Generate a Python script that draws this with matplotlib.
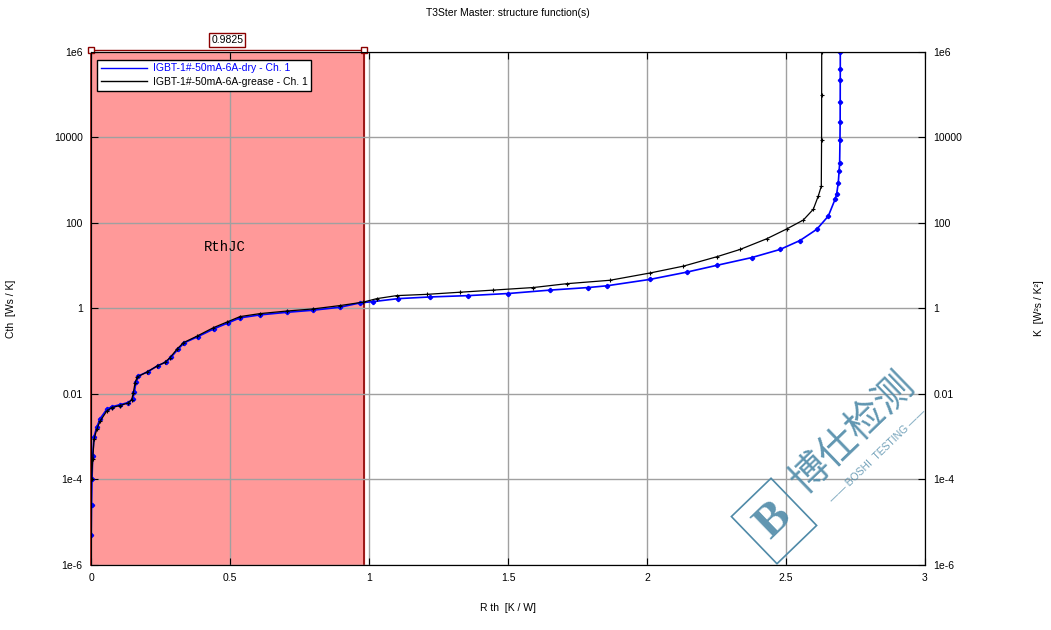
import matplotlib
matplotlib.use("Agg")
import matplotlib.pyplot as plt
import matplotlib.ticker as tic
import matplotlib.transforms as mtrans
from matplotlib.lines import Line2D

plt.rcParams['font.family'] = ['Liberation Sans', 'DejaVu Sans']

# --- данные --- #
rth_dry = [0.0007, 0.0018, 0.0036, 0.0061, 0.0108, 0.0205, 0.0324, 0.0565, 0.0745, 0.1043,
           0.1342, 0.1500, 0.1560, 0.1620, 0.1700, 0.2040, 0.2400, 0.2700, 0.2880, 0.3120,
           0.3360, 0.3840, 0.4440, 0.4920, 0.5360, 0.6079, 0.7040, 0.7996, 0.8957, 0.9676,
           1.0155, 1.1054, 1.2194, 1.3572, 1.5011, 1.6511, 1.7888, 1.8550, 2.0108, 2.1428,
           2.2507, 2.3766, 2.4784, 2.5504, 2.6104, 2.6522, 2.6763, 2.6821, 2.6881, 2.6910,
           2.6930, 2.6942, 2.6948, 2.6950, 2.6952, 2.6953, 2.6953]
cth_dry = [5.0e-6, 2.5e-5, 1.0e-4, 3.55e-4, 1.0e-3, 1.66e-3, 2.63e-3, 4.37e-3, 5.01e-3, 5.62e-3,
           6.31e-3, 7.59e-3, 1.12e-2, 1.91e-2, 2.63e-2, 3.31e-2, 4.57e-2, 5.62e-2, 7.24e-2, 0.110,
           0.158, 0.219, 0.339, 0.457, 0.603, 0.708, 0.813, 0.912, 1.07, 1.35,
           1.45, 1.70, 1.86, 2.00, 2.24, 2.69, 3.09, 3.39, 4.79, 7.08,
           10.2, 15.5, 24.0, 38.9, 70.8, 145, 355, 468, 871, 1620,
           2510, 8910, 2.3e4, 6.9e4, 2.2e5, 4.0e5, 1.0e6]

rth_grease = [0.0018, 0.0061, 0.0108, 0.0205, 0.0324, 0.0565, 0.0745, 0.1043, 0.1342, 0.1464,
              0.1522, 0.1583, 0.1665, 0.2004, 0.2363, 0.2662, 0.2842, 0.3083, 0.3320, 0.3802,
              0.4399, 0.4881, 0.5360, 0.6079, 0.7040, 0.7996, 0.8957, 0.9795, 1.0280, 1.0996,
              1.2076, 1.3273, 1.4471, 1.5910, 1.7112, 1.8669, 2.0108, 2.1306, 2.2507, 2.3345,
              2.4306, 2.5025, 2.5622, 2.5982, 2.6162, 2.6270, 2.6280, 2.6283, 2.6285]
cth_grease = [1.0e-4, 2.95e-4, 8.7e-4, 1.48e-3, 2.29e-3, 3.98e-3, 4.79e-3, 5.37e-3, 6.17e-3, 7.41e-3,
              1.07e-2, 1.82e-2, 2.51e-2, 3.24e-2, 4.47e-2, 5.50e-2, 7.08e-2, 0.110, 0.158, 0.224,
              0.355, 0.479, 0.646, 0.759, 0.871, 0.977, 1.17, 1.41, 1.70, 2.0,
              2.14, 2.40, 2.69, 3.09, 3.80, 4.57, 6.76, 9.77, 16.2, 24.0,
              42.7, 72.4, 117, 209, 427, 724, 8910, 1.0e5, 1.0e6]

rthjc = 0.9825
y_ticks = [1e-6, 1e-4, 1e-2, 1, 1e2, 1e4, 1e6]
y_ticklabels = ['1e-6', '1e-4', '0.01', '1', '100', '10000', '1e6']
x_ticks = [0, 0.5, 1, 1.5, 2, 2.5, 3]
x_ticklabels = ['0', '0.5', '1', '1.5', '2', '2.5', '3']
labels = ['IGBT-1#-50mA-6A-dry - Ch. 1', 'IGBT-1#-50mA-6A-grease - Ch. 1']

# --- построение --- #
fig = plt.figure(figsize=(10.51, 6.3), dpi=100)
ax = fig.add_axes([0.0866, 0.1032, 0.7935, 0.8143])
ax.set_yscale('log')
ax.set_xlim(0, 3)
ax.set_ylim(1e-6, 1e6)

dark_red = '#8b0000'
ax.axvspan(0, rthjc, color='#ff9999', zorder=0)
ax.axvline(rthjc, color=dark_red, linewidth=1.2, zorder=1)

ax.plot(rth_dry, cth_dry, color='#0000ff', linewidth=1.2, marker='P', markersize=2.8, zorder=3)
ax.plot(rth_grease, cth_grease, color='black', linewidth=0.9, marker='+', markersize=3,
        markeredgewidth=0.8, zorder=4)

ax.set_xticks(x_ticks)
ax.set_xticklabels(x_ticklabels)
ax.set_yticks(y_ticks)
ax.set_yticklabels(y_ticklabels)
ax.yaxis.set_minor_locator(tic.NullLocator())
ax.tick_params(direction='in', length=5, labelsize=7.5, top=True, pad=6)
ax.grid(which='major', color='#a0a0a0', linewidth=1)
for line in ax.get_xgridlines() + ax.get_ygridlines():
    line.set_zorder(1.5)

ax.spines['left'].set_color(dark_red)
ax.spines['left'].set_linewidth(1.2)

# правая ось
ax2 = ax.twinx()
ax2.set_yscale('log')
ax2.set_ylim(1e-6, 1e6)
ax2.set_yticks(y_ticks)
ax2.set_yticklabels(y_ticklabels)
ax2.yaxis.set_minor_locator(tic.NullLocator())
ax2.tick_params(direction='in', length=5, labelsize=7.5, pad=6)
ax2.set_ylabel('K  [W²s / K²]', fontsize=7.5, labelpad=52)

ax.set_xlabel('R th  [K / W]', fontsize=7.5, labelpad=14)
ax.set_ylabel('Cth  [Ws / K]', fontsize=7.5, labelpad=27)
ax.set_title('T3Ster Master: structure function(s)', fontsize=7.5, pad=26)

# скобка RthJC над графиком
trans = mtrans.blended_transform_factory(ax.transData, ax.transAxes)
ax.plot([0, rthjc], [1.004, 1.004], color=dark_red, linewidth=1, transform=trans,
        clip_on=False, zorder=5)
ax.plot([0, rthjc], [1.004, 1.004], linestyle='none', marker='s', markersize=4,
        markerfacecolor='white', markeredgecolor=dark_red, transform=trans, clip_on=False, zorder=6)
ax.text(0.49, 1.024, '%.4f' % rthjc, transform=trans, ha='center', va='center', fontsize=7.5,
        bbox=dict(boxstyle='square,pad=0.2', facecolor='white', edgecolor=dark_red, linewidth=1))
ax.text(0.482, 28, 'RthJC', family='Liberation Mono', fontsize=10, ha='center', va='center')

handles = [Line2D([], [], color='#0000ff', linewidth=1), Line2D([], [], color='black', linewidth=1)]
leg = ax.legend(handles, labels, loc='upper left', bbox_to_anchor=(0.007, 0.985), fontsize=7.5,
                frameon=True, fancybox=False, handlelength=4.5, borderpad=0.35, labelspacing=0.35,
                handletextpad=0.5, borderaxespad=0)
leg.get_frame().set_edgecolor('black')
leg.get_frame().set_linewidth(1)
leg.get_frame().set_alpha(1)
for txt, col in zip(leg.get_texts(), ['#0000ff', 'black']):
    txt.set_color(col)
leg.set_zorder(10)

# водяной знак
wm = '#4f8aa8'
fig.text(774 / 1051, 1 - 521 / 630, 'B', fontsize=34, family='Liberation Serif', color=wm,
         rotation=44, ha='center', va='center', fontweight='bold', alpha=0.9,
         bbox=dict(boxstyle='square,pad=0.25', facecolor='none', edgecolor=wm, linewidth=1.2))
fig.text(853 / 1051, 1 - 433 / 630, '博仕检测', fontsize=28, family=['Noto Sans CJK SC'],
         color=wm, rotation=44, ha='center', va='center', alpha=0.9)
fig.text(878 / 1051, 1 - 456 / 630, '—— BOSHI  TESTING ——', fontsize=7.5, color=wm,
         rotation=44, ha='center', va='center', alpha=0.8)

fig.savefig('out.png', dpi=100)
